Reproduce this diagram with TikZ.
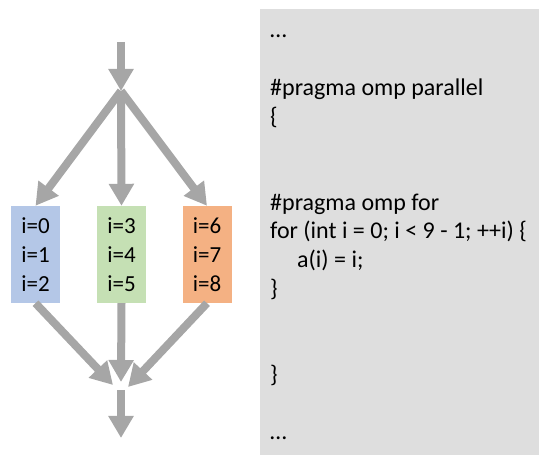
\documentclass[tikz,border=0pt]{standalone}
\usepackage{fontspec}
\setmainfont{Carlito}
\usepackage{tikz}
\usetikzlibrary{arrows.meta, positioning}
\definecolor{iterblue}{RGB}{180, 199, 231}
\definecolor{itergreen}{RGB}{197, 224, 180}
\definecolor{iterorange}{RGB}{244, 177, 131}
\definecolor{flowgray}{RGB}{166, 166, 166}
\definecolor{panelgray}{RGB}{222, 222, 222}

\begin{document}
\begin{tikzpicture}[
        x=1pt, y=-1pt,
        chunk/.style={minimum width=49pt, minimum height=97pt, inner sep=0pt,
                      align=center, font=\fontsize{23}{29}\selectfont},
        flow/.style={-{Triangle[width=24pt, length=22pt]}, line width=8pt,
                     flowgray},
        code/.style={align=left, inner sep=0pt,
                     font=\fontsize{24}{28.7}\selectfont},
      ]
        \useasboundingbox (0,0) rectangle (550,462);

        \node[fill=panelgray, minimum width=279pt, minimum height=446pt,
              inner sep=0pt] (panel) at (399.5,232) {};
        \node[code, anchor=north west] (src) at (270,35)
          {…\\
           \strut\\
           \#pragma omp parallel\\
           \{\\
           \strut\\
           \strut\\
           \#pragma omp for\\
           for (int i = 0; i < 9 - 1; ++i) \{\\
           \hspace*{27pt}a(i) = i;\\
           \}\\
           \strut\\
           \strut\\
           \}\\
           \strut\\
           …};

        \node[chunk, fill=iterblue] (c1) at (35.5,254.5) {i=0\\i=1\\i=2};
        \node[chunk, fill=itergreen] (c2) at (121.5,254.5) {i=3\\i=4\\i=5};
        \node[chunk, fill=iterorange] (c3) at (207,254.5) {i=6\\i=7\\i=8};

        \coordinate (start) at (121,42);
        \coordinate (fork) at (121,91);
        \coordinate (joinL) at (113,385);
        \coordinate (joinM) at (121,382);
        \coordinate (joinR) at (128,387);
        \coordinate (join) at (121,390);
        \coordinate (stop) at (121,438);

        \draw[flow] (start) -- (fork);
        \draw[flow] (fork) -- (c1.north);
        \draw[flow] (fork) -- (c2.north);
        \draw[flow] (fork) -- (c3.north);
        \draw[flow] (c1.south) -- (joinL);
        \draw[flow] (c2.south) -- (joinM);
        \draw[flow] (c3.south) -- (joinR);
        \draw[flow] (join) -- (stop);
      \end{tikzpicture}
\end{document}
